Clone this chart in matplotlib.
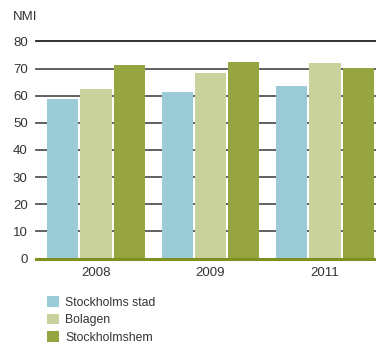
import matplotlib
matplotlib.use("Agg")
import matplotlib.pyplot as plt
import numpy as np

# NMI per year and organisation
years = ["2008", "2009", "2011"]
series_names = ["Stockholms stad", "Bolagen", "Stockholmshem"]
stockholms_stad = [58.8, 61.4, 63.6]
bolagen = [62.5, 68.4, 72.1]
stockholmshem = [71.3, 72.4, 70.2]
y_ticks = [0, 10, 20, 30, 40, 50, 60, 70, 80]

colors = ["#9ccbd8", "#c9d19d", "#96a540"]
text_color = "#333333"

plt.rcParams["font.family"] = ["Liberation Sans", "DejaVu Sans"]

fig = plt.figure(figsize=(3.76, 3.44), dpi=100)
ax = fig.add_axes([36 / 376, 1 - 258.5 / 344, 1 - 36 / 376, (258.5 - 41.5) / 344])

x = np.arange(len(years))
pitch = 0.291
width = 0.272
values = [stockholms_stad, bolagen, stockholmshem]
handles = []
for i, (name, vals, c) in enumerate(zip(series_names, values, colors)):
    h = ax.bar(x + (i - 1) * pitch, vals, width=width, color=c, label=name,
               zorder=3, linewidth=0)
    handles.append(h)

# horizontal grid lines
for t in y_ticks[1:]:
    col = "#222222" if t == 80 else "#555555"
    ax.axhline(t, color=col, lw=1.3, zorder=1, clip_on=False)
# baseline
ax.axhline(0, color="#7e9120", lw=2.2, zorder=4, clip_on=False)

ax.set_xlim(-0.524, 2.445)
ax.set_ylim(0, 80)
ax.set_yticks(y_ticks)
ax.set_yticklabels([str(t) for t in y_ticks], fontsize=9.5, color=text_color)
ax.set_xticks(x)
ax.set_xticklabels(years, fontsize=9.5, color=text_color)
ax.tick_params(axis="both", length=0)
ax.tick_params(axis="y", pad=6)
ax.tick_params(axis="x", pad=6)
for s in ax.spines.values():
    s.set_visible(False)

fig.text(13 / 376, 1 - 17.5 / 344, "NMI", fontsize=9.5, color=text_color,
         ha="left", va="center")

fig.legend(handles=handles, labels=series_names, loc="upper left",
           bbox_to_anchor=(41 / 376, 1 - 290 / 344), frameon=False,
           fontsize=8.8, handlelength=0.95, handleheight=0.95,
           handletextpad=0.55, labelspacing=0.42, borderpad=0,
           labelcolor=text_color)

fig.savefig("out.png", dpi=100)
